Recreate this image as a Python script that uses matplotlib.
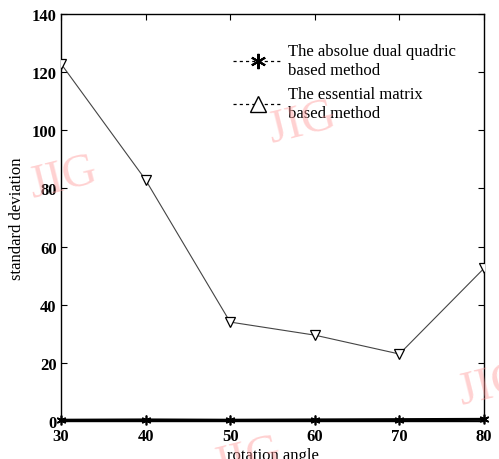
import matplotlib.pyplot as plt
from matplotlib.lines import Line2D

plt.rcParams['font.family'] = ['Liberation Serif', 'DejaVu Serif']

# rotation angle vs standard deviation for the two methods
angles = [30, 40, 50, 60, 70, 80]
adq_std = [0.2, 0.3, 0.2, 0.3, 0.4, 0.5]
essential_std = [123, 83, 34, 29.5, 23, 52.5]

x_ticks = [30, 40, 50, 60, 70, 80]
y_ticks = [0, 20, 40, 60, 80, 100, 120, 140]

fig = plt.figure(figsize=(4.99, 4.60), dpi=100)
ax = fig.add_axes([0.122, 0.083, 0.848, 0.884])

asterisk = (6, 2, 0)

ax.plot(angles, essential_std, color='#444444', lw=0.8, marker='v',
        markersize=7, markerfacecolor='white', markeredgecolor='black',
        markeredgewidth=0.9, zorder=3)
ax.plot(angles, adq_std, color='black', lw=2.2, marker=asterisk,
        markersize=7, markeredgecolor='black', markeredgewidth=1.2,
        zorder=4, clip_on=False)

ax.set_xlim(30, 80)
ax.set_ylim(0, 140)
ax.set_xticks(x_ticks)
ax.set_yticks(y_ticks)
ax.tick_params(direction='in', top=True, right=True, length=4,
               labelsize=12)
ax.tick_params(axis='x', pad=5)
ax.tick_params(axis='y', pad=3)
for lbl in ax.get_xticklabels() + ax.get_yticklabels():
    lbl.set_fontweight('bold')
for s in ax.spines.values():
    s.set_linewidth(1.0)

ax.set_xlabel('rotation angle', fontsize=12, labelpad=2)
ax.set_ylabel('standard deviation', fontsize=12, labelpad=5)

handles = [
    Line2D([], [], color='black', ls=(0, (2.5, 2.5)), lw=0.9,
           marker=asterisk, markersize=11, markeredgewidth=1.5),
    Line2D([], [], color='black', ls=(0, (2.5, 2.5)), lw=0.9, marker='^',
           markersize=11, markerfacecolor='white', markeredgecolor='black'),
]
labels = ['The absolue dual quadric\nbased method',
          'The essential matrix\nbased method']
ax.legend(handles, labels, loc='upper right', frameon=False, fontsize=12,
          handlelength=3.0, handletextpad=0.3, labelspacing=0.5,
          bbox_to_anchor=(0.968, 0.965))

# journal watermark
wm = dict(color='#ff9a9a', alpha=0.45, fontsize=34, rotation=14,
          zorder=0, fontfamily='Liberation Serif')
fig.text(0.05, 0.57, 'JIG', **wm)
fig.text(0.53, 0.69, 'JIG', **wm)
fig.text(0.42, -0.04, 'JIG', **wm)
fig.text(0.91, 0.12, 'JIG', **wm)

fig.savefig('out.png', dpi=100)
